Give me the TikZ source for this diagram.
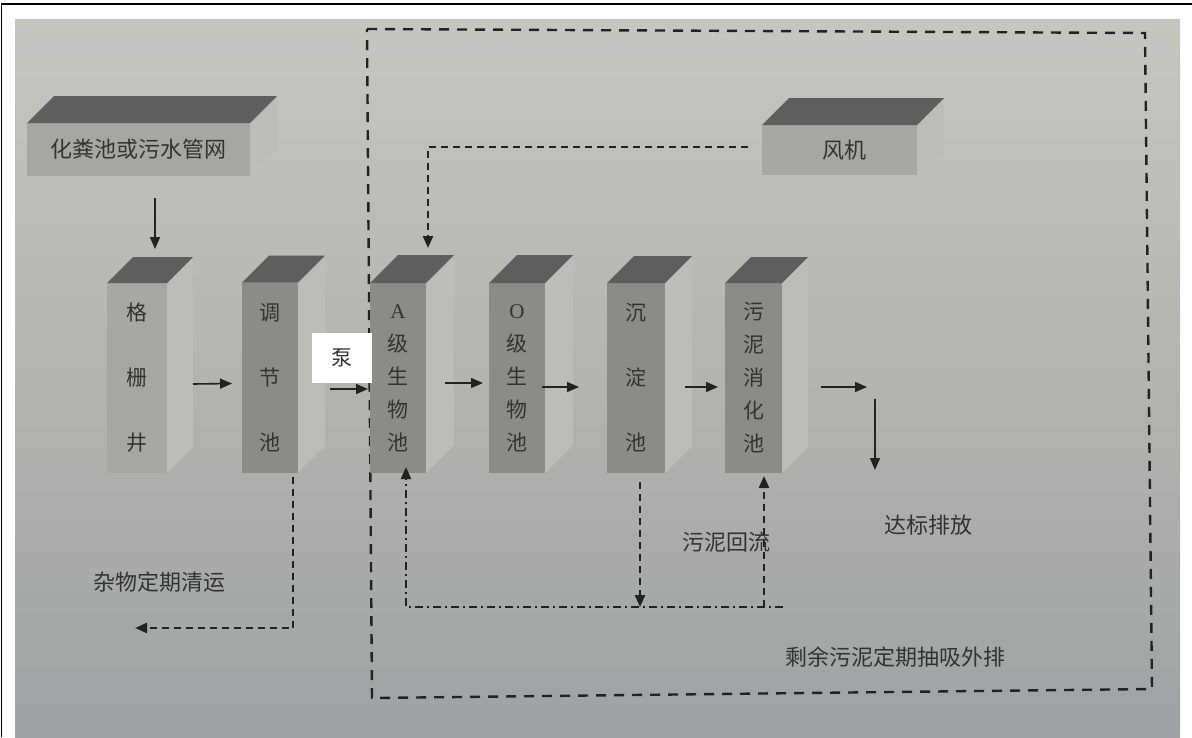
\documentclass[tikz,border=0pt]{standalone}
\usepackage{fontspec}
\newfontfamily\cjk{Noto Sans CJK SC}
\newfontfamily\lat{Liberation Serif}
\usetikzlibrary{arrows.meta,calc}
\definecolor{bgtop}{HTML}{C6C6C1}
\definecolor{bgbot}{HTML}{A0A1A2}
\definecolor{ink}{HTML}{333333}
\definecolor{lineink}{HTML}{222222}
\definecolor{frontA}{HTML}{A6A6A4}
\definecolor{frontB}{HTML}{8B8B8A}
\definecolor{topc}{HTML}{5E5E5E}
\definecolor{sidec}{HTML}{BCBCBA}
\newcommand\prism[4]{%
  \fill[#3] (#1.north east) -- ++(#4,-#4) -- ($(#1.south east)+(#4,-#4)$) -- (#1.south east) -- cycle;
  \fill[#2] (#1.north west) -- ++(#4,-#4) -- ($(#1.north east)+(#4,-#4)$) -- (#1.north east) -- cycle;
}
\tikzset{
  face/.style={inner sep=0pt, outer sep=0pt, text=ink, align=center},
  col3/.style={face, fill=frontB, minimum height=190pt, font=\cjk\fontsize{21}{65}\selectfont},
  col5/.style={face, fill=frontB, minimum height=190pt, font=\cjk\fontsize{21}{33}\selectfont},
  lbl/.style={text=ink, font=\cjk\fontsize{22}{26}\selectfont, inner sep=0pt},
  tip/.style={-{Triangle[length=12pt,width=10pt]}},
  arr/.style={draw=lineink, line width=1.6pt, tip},
  dsh/.style={draw=lineink, line width=2.2pt, dash pattern=on 7pt off 5pt},
  dshdot/.style={draw=lineink, line width=2.2pt, dash pattern=on 8pt off 4pt on 2pt off 4pt},
  bigdash/.style={draw=lineink, line width=2.4pt, dash pattern=on 10pt off 8pt},
}
\begin{document}
\begin{tikzpicture}[x=1pt,y=-1pt]
\useasboundingbox (0,0) rectangle (1192,737);
% background photo area
\shade[top color=bgtop, bottom color=bgbot] (15,19) rectangle (1180,737);
\draw[line width=1.5pt] (1.5,737) -- (1.5,4) -- (1192,4);

% big dashed boundary
\draw[bigdash] (367,29) -- (1145,33) -- (1152,689) -- (372,698) -- cycle;

% top boxes
\node[face, fill=frontA, minimum width=223pt, minimum height=53pt, font=\cjk\fontsize{22}{26}\selectfont] (hf) at (138.5,149.5) {化粪池或污水管网};
\prism{hf}{topc}{sidec}{27}
\node[face, fill=frontA, minimum width=155pt, minimum height=50pt, font=\cjk\fontsize{22}{26}\selectfont] (fj) at (839.5,150) {\hspace{10pt}风机};
\prism{fj}{topc}{sidec}{27}

% columns
\node[col3, fill=frontA, minimum width=60pt] (gs) at (137,378) {格\\栅\\井};
\prism{gs}{topc}{sidec}{26}
\node[col3, minimum width=56pt] (tj) at (270,377.5) {调\\节\\池};
\prism{tj}{topc}{sidec}{27}
\node[col5, minimum width=56pt] (A) at (398,378) {{\lat A}\\级\\生\\物\\池};
\prism{A}{topc}{sidec}{28}
\node[col5, minimum width=56pt] (O) at (517,378) {{\lat O}\\级\\生\\物\\池};
\prism{O}{topc}{sidec}{28}
\node[col3, minimum width=58pt] (cd) at (636,378) {沉\\淀\\池};
\prism{cd}{topc}{sidec}{27}
\node[col5, minimum width=57pt] (wn) at (753.5,378) {污\\泥\\消\\化\\池};
\prism{wn}{topc}{sidec}{26}

% pump label
\node[fill=white, minimum width=60pt, minimum height=50pt, inner sep=0pt, text=ink, font=\cjk\fontsize{21}{25}\selectfont] (pump) at (342,358) {泵};

% text labels
\node[lbl] (zw) at (159,582) {杂物定期清运};
\node[lbl] (db) at (928,525) {达标排放};
\node[lbl] (hl) at (726,542) {污泥回流};
\node[lbl] (sy) at (895,657) {剩余污泥定期抽吸外排};

% coordinates
\coordinate (out1) at (867,387);
\coordinate (out2) at (875,399);
\coordinate (out3) at (875,470);
\coordinate (trash) at (135,628);
\coordinate (j1) at (640,607);
\coordinate (bl) at (406,607);
\coordinate (br) at (783,607);
\coordinate (jr) at (764,607);

% solid flow arrows
\draw[arr] ([xshift=16.5pt,yshift=-22pt]hf.south) -- ([xshift=18pt,yshift=34pt]gs.north);
\draw[arr] ([xshift=26pt,yshift=-6pt]gs.east) -- ([xshift=-10pt,yshift=-6pt]tj.west);
\draw[arr] ([xshift=32pt,yshift=-11.5pt]tj.east) -- ([xshift=-2pt,yshift=-11pt]A.west);
\draw[arr] ([xshift=19pt,yshift=-5pt]A.east) -- ([xshift=-6pt,yshift=-5pt]O.west);
\draw[arr] ([xshift=-3pt,yshift=-9pt]O.east) -- ([xshift=-28pt,yshift=-9pt]cd.west);
\draw[arr] ([xshift=20pt,yshift=-9pt]cd.east) -- ([xshift=-7pt,yshift=-9pt]wn.west);
\draw[arr] ([xshift=39pt,yshift=-9pt]wn.east) -- (out1);
\draw[arr] (out2) -- (out3);

% dashed connectors
\draw[dsh, tip] ([xshift=23pt,yshift=-4pt]tj.south) |- (trash);
\draw[dsh, tip] ([xshift=-14pt,yshift=3pt]fj.west) -| ([xshift=30pt,yshift=35pt]A.north);
\draw[dsh, tip] ([xshift=4pt,yshift=-9pt]cd.south) -- (j1);
\draw[dshdot, tip] (br) -- (bl) -- ([xshift=8pt,yshift=6pt]A.south);
\draw[dsh, tip] (jr) -- ([xshift=10.5pt,yshift=-3pt]wn.south);
\end{tikzpicture}
\end{document}
